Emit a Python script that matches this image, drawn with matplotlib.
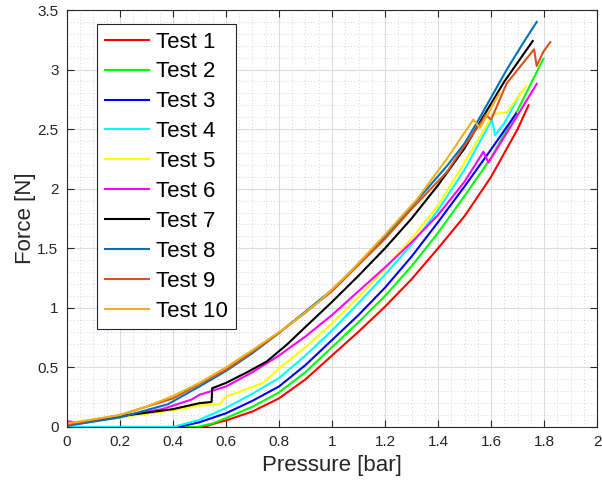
import matplotlib.pyplot as plt
from matplotlib.ticker import MultipleLocator, FuncFormatter

plt.rcParams['font.family'] = ['Liberation Sans', 'DejaVu Sans']

# (pressure [bar], force [N])
p1 = [0, 0.515, 0.565, 0.6, 0.7, 0.8, 0.9, 1.0, 1.1, 1.2, 1.3, 1.4, 1.5, 1.6, 1.7, 1.741]
f1 = [0, 0, 0.035, 0.055, 0.13, 0.24, 0.40, 0.60, 0.80, 1.01, 1.24, 1.50, 1.77, 2.10, 2.50, 2.70]

p2 = [0, 0.49, 0.55, 0.6, 0.7, 0.8, 0.9, 1.0, 1.1, 1.2, 1.3, 1.4, 1.5, 1.6, 1.7, 1.797]
f2 = [0, 0, 0.03, 0.075, 0.17, 0.29, 0.46, 0.67, 0.88, 1.10, 1.35, 1.63, 1.94, 2.26, 2.66, 3.09]

p3 = [0, 0.42, 0.5, 0.6, 0.7, 0.8, 0.9, 1.0, 1.1, 1.2, 1.3, 1.4, 1.5, 1.6, 1.694]
f3 = [0, 0, 0.04, 0.115, 0.22, 0.34, 0.52, 0.73, 0.94, 1.17, 1.43, 1.72, 2.02, 2.33, 2.63]

p4 = [0, 0.40, 0.5, 0.6, 0.7, 0.8, 0.9, 1.0, 1.1, 1.2, 1.3, 1.4, 1.5, 1.603, 1.615, 1.65, 1.71]
f4 = [0, 0, 0.06, 0.16, 0.28, 0.41, 0.60, 0.81, 1.04, 1.28, 1.53, 1.82, 2.16, 2.58, 2.45, 2.55, 2.80]

p5 = [0, 0.2, 0.4, 0.5, 0.577, 0.6, 0.74, 0.8, 0.9, 1.0, 1.1, 1.2, 1.3, 1.4, 1.5, 1.609, 1.659, 1.732]
f5 = [0.02, 0.08, 0.14, 0.18, 0.19, 0.255, 0.37, 0.49, 0.67, 0.87, 1.09, 1.33, 1.58, 1.86, 2.22, 2.63, 2.64, 2.86]

p6 = [0, 0.05, 0.2, 0.36, 0.47, 0.5, 0.6, 0.7, 0.8, 0.9, 1.0, 1.1, 1.2, 1.3, 1.4, 1.5, 1.571, 1.59, 1.665, 1.772]
f6 = [0.05, 0.03, 0.09, 0.15, 0.23, 0.27, 0.34, 0.46, 0.60, 0.76, 0.94, 1.14, 1.34, 1.55, 1.78, 2.06, 2.31, 2.22, 2.49, 2.88]

p7 = [0, 0.2, 0.4, 0.5, 0.546, 0.548, 0.6, 0.68, 0.754, 0.829, 0.9, 1.0, 1.1, 1.2, 1.3, 1.4, 1.5, 1.558, 1.65, 1.757]
f7 = [0.02, 0.09, 0.15, 0.20, 0.21, 0.325, 0.37, 0.46, 0.55, 0.69, 0.84, 1.05, 1.27, 1.50, 1.75, 2.03, 2.34, 2.56, 2.90, 3.24]

p8 = [0, 0.2, 0.38, 0.5, 0.6, 0.7, 0.8, 0.9, 1.0, 1.1, 1.2, 1.3, 1.433, 1.5, 1.558, 1.659, 1.72, 1.772]
f8 = [0.01, 0.08, 0.19, 0.34, 0.47, 0.62, 0.79, 0.97, 1.15, 1.37, 1.60, 1.85, 2.19, 2.38, 2.60, 3.00, 3.22, 3.40]

p9 = [0, 0.2, 0.4, 0.5, 0.6, 0.7, 0.8, 0.9, 1.0, 1.1, 1.2, 1.3, 1.433, 1.5, 1.56, 1.58, 1.6, 1.659, 1.762, 1.772, 1.797, 1.823]
f9 = [0.02, 0.10, 0.24, 0.36, 0.48, 0.63, 0.79, 0.96, 1.14, 1.36, 1.58, 1.83, 2.14, 2.36, 2.55, 2.62, 2.58, 2.885, 3.17, 3.03, 3.15, 3.23]

p10 = [0, 0.2, 0.3, 0.4, 0.5, 0.6, 0.703, 0.829, 0.955, 1.068, 1.194, 1.32, 1.433, 1.533, 1.558, 1.631]
f10 = [0.03, 0.10, 0.17, 0.26, 0.37, 0.50, 0.65, 0.84, 1.06, 1.30, 1.60, 1.91, 2.25, 2.58, 2.51, 2.80]

series = [(p1, f1), (p2, f2), (p3, f3), (p4, f4), (p5, f5),
          (p6, f6), (p7, f7), (p8, f8), (p9, f9), (p10, f10)]
labels = ["Test %d" % i for i in range(1, 11)]
colors = ["#FF0000", "#00FF00", "#0000FF", "#00FFFF", "#FFFF00",
          "#FF00FF", "#000000", "#0072BD", "#D95319", "#EDB120"]

fig = plt.figure(figsize=(6.02, 4.88), dpi=100)
ax = fig.add_axes([0.111, 0.125, 0.881, 0.8545])

for (px, fy), lab, c in zip(series, labels, colors):
    ax.plot(px, fy, color=c, linewidth=1.5, label=lab)

ax.set_xlim(0, 2)
ax.set_ylim(0, 3.5)
ax.xaxis.set_major_locator(MultipleLocator(0.2))
ax.yaxis.set_major_locator(MultipleLocator(0.5))
ax.xaxis.set_minor_locator(MultipleLocator(0.05))
ax.yaxis.set_minor_locator(MultipleLocator(0.1))
fmt = FuncFormatter(lambda v, _: ("%g" % round(v, 2)))
ax.xaxis.set_major_formatter(fmt)
ax.yaxis.set_major_formatter(fmt)

ax.grid(True, which='major', color='#dcdcdc', linewidth=0.8)
ax.grid(True, which='minor', color='#c8c8c8', linestyle=(0, (1, 3)), linewidth=0.6)
ax.set_axisbelow(True)
ax.tick_params(which='both', direction='in', top=True, right=True, colors='#262626',
               labelsize=11, pad=6)
ax.tick_params(which='minor', length=0)
ax.tick_params(which='major', length=5)
for s in ax.spines.values():
    s.set_color('#262626')
    s.set_linewidth(0.8)

ax.set_xlabel("Pressure [bar]", fontsize=16, color='#262626', labelpad=4)
ax.set_ylabel("Force [N]", fontsize=16, color='#262626', labelpad=1)

leg = ax.legend(loc='upper left', bbox_to_anchor=(0.057, 0.967), fontsize=16,
                handlelength=2.0, labelspacing=0.40, borderpad=0.35,
                handletextpad=0.3, fancybox=False, framealpha=1,
                edgecolor='#262626', borderaxespad=0)
leg.get_frame().set_linewidth(0.8)

fig.savefig("out.png", dpi=100)
